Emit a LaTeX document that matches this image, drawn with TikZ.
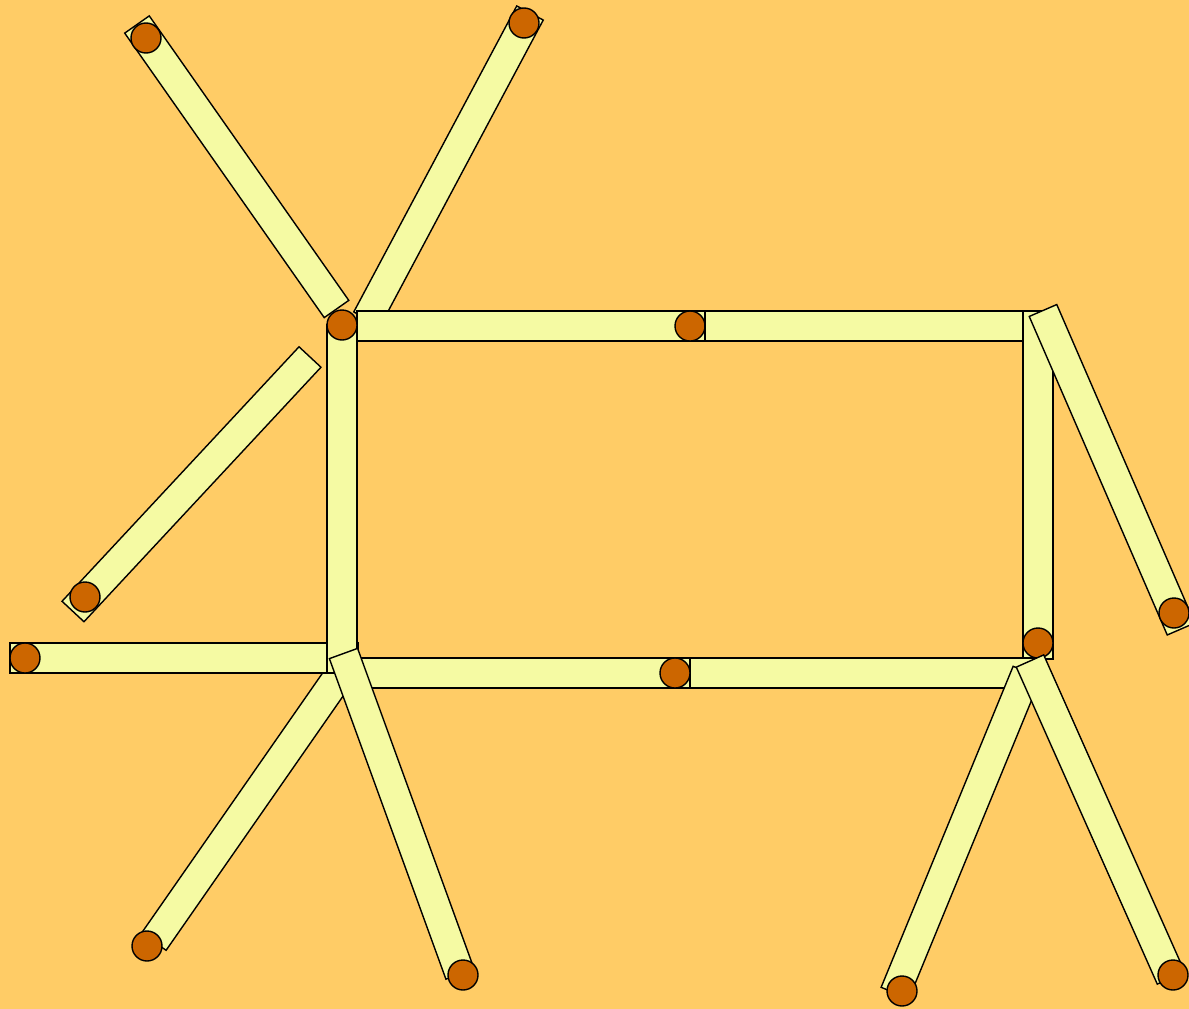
\documentclass[tikz,border=0pt]{standalone}
\usepackage{xcolor}
\usepackage{tikz}
\usetikzlibrary{calc}
\definecolor{TableOrange}{HTML}{FFCC66}
\definecolor{StickYellow}{HTML}{F5FAA3}
\definecolor{HeadRed}{HTML}{CC6600}
\newcommand{\stick}[2]{%
  \draw[wood] ($(#1)!15pt!90:(#2)$) -- ($(#2)!15pt!-90:(#1)$)
    -- ($(#2)!15pt!90:(#1)$) -- ($(#1)!15pt!-90:(#2)$) -- cycle;}

\begin{document}
\begin{tikzpicture}[x=1pt,y=-1pt]
\tikzstyle{wood}=[draw=black,line width=1.4pt,fill=StickYellow,line join=miter]
\tikzstyle{head}=[circle,draw=black,line width=1.4pt,fill=HeadRed,
                  minimum size=30pt,inner sep=0pt]
\useasboundingbox (0,0) rectangle (1189,1009);
\fill[TableOrange] (0,0) rectangle (1189,1009);
\coordinate (trA) at (367,319);
\coordinate (trB) at (530,13);
\stick{trA}{trB}
\node[head] (trH) at (524,23) {};
\coordinate (tlA) at (336.5,309);
\coordinate (tlB) at (137,24.5);
\stick{tlA}{tlB}
\node[head] (tlH) at (146,38) {};
\coordinate (thA) at (357,326);
\coordinate (thB) at (705,326);
\coordinate (thC) at (1053,326);
\stick{thA}{thB}
\node[head] (thH) at (690,326) {};
\stick{thB}{thC}
\coordinate (rvA) at (1038,311);
\coordinate (rvB) at (1038,659);
\stick{rvA}{rvB}
\node[head] (rvH) at (1038,643) {};
\coordinate (rsA) at (1043,310.5);
\coordinate (rsB) at (1181,629);
\stick{rsA}{rsB}
\node[head] (rsH) at (1174,613) {};
\coordinate (llA) at (352,657);
\coordinate (llB) at (153.8,941.7);
\stick{llA}{llB}
\node[head] (llH) at (147,946) {};
\coordinate (bhA) at (342,673);
\coordinate (bhB) at (690,673);
\coordinate (bhC) at (1038,673);
\stick{bhB}{bhC}
\stick{bhA}{bhB}
\node[head] (bhH) at (675,673) {};
\coordinate (lhA) at (358,658);
\coordinate (lhB) at (10,658);
\stick{lhA}{lhB}
\node[head] (lhH) at (25,658) {};
\coordinate (lvA) at (342,673);
\coordinate (lvB) at (342,325);
\stick{lvA}{lvB}
\node[head] (lvH) at (342,325) {};
\coordinate (lmA) at (343.5,653.5);
\coordinate (lmB) at (460,974);
\stick{lmA}{lmB}
\node[head] (lmH) at (463,975) {};
\coordinate (raA) at (1027,672);
\coordinate (raB) at (895,993);
\stick{raA}{raB}
\node[head] (raH) at (902,991) {};
\coordinate (rbA) at (1030,661);
\coordinate (rbB) at (1171,978);
\stick{rbA}{rbB}
\node[head] (rbH) at (1173,975) {};
\coordinate (ldA) at (310,357);
\coordinate (ldB) at (73,611.5);
\stick{ldA}{ldB}
\node[head] (ldH) at (85,597) {};
\end{tikzpicture}
\end{document}
